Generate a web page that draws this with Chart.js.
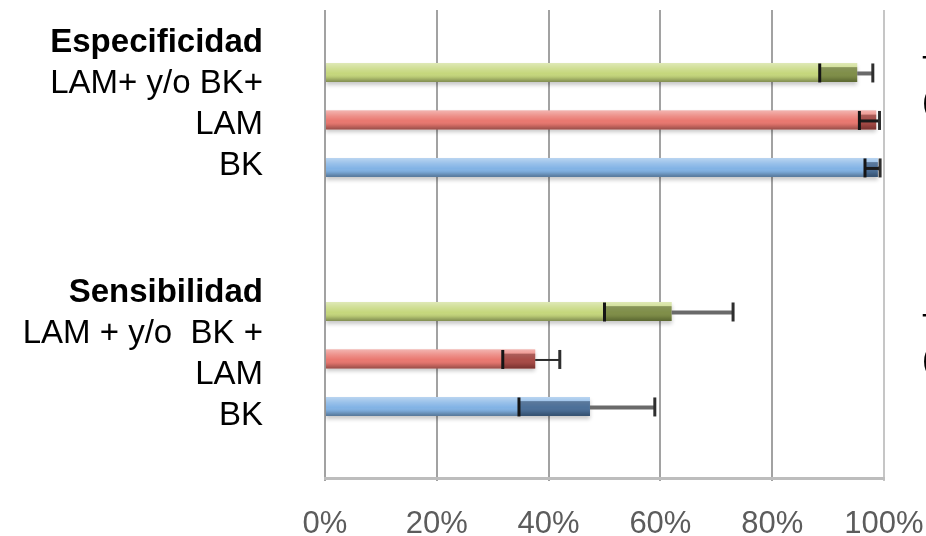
<!DOCTYPE html>
<html>
<head>
<meta charset="utf-8">
<script src="https://cdn.jsdelivr.net/npm/chart.js@4"></script>
<style>
html,body{margin:0;padding:0;background:#fff;}
#wrap{width:926px;height:536px;position:relative;}
</style>
</head>
<body>
<div id="wrap"><canvas id="c" width="926" height="536"></canvas></div>
<script>
// ---------- data ----------
const groups = ['Especificidad', 'Sensibilidad'];
const seriesNames = ['LAM+ y/o BK+', 'LAM', 'BK'];
const rowLabelsEsp = ['LAM+ y/o BK+', 'LAM', 'BK'];
const rowLabelsSens = ['LAM + y/o  BK +', 'LAM', 'BK'];
const xTicks = [0, 20, 40, 60, 80, 100];

const lamBkValues = [95.2, 62.0];
const lamValues   = [98.6, 37.6];
const bkValues    = [98.9, 47.4];

const lamBkLow  = [88.5, 50.0];
const lamBkHigh = [98.0, 73.0];
const lamLow    = [95.6, 31.8];
const lamHigh   = [99.2, 42.0];
const bkLow     = [96.6, 34.7];
const bkHigh    = [99.3, 59.0];

const rightNotes = ['T', '('];

// ---------- styles ----------
const FONT = "'Liberation Sans', Arial, sans-serif";
Chart.defaults.font.family = FONT;
const baseColors = ['#c5d77c', '#e9776f', '#82b3e5'];
const innerErr = ['rgba(45,55,10,0.45)', 'rgba(70,10,10,0.40)', 'rgba(10,30,60,0.45)'];
const outLine = [{c:'#6a6a6a', w:4}, {c:'#2a2a2a', w:2}, {c:'#6a6a6a', w:4}];
const labelX = 263;
const lineGap = 41;
const titleOffset = [-68, -57];
const notesOffset = [[-41, -8], [-22, 11]];
const yMin = -0.46, yMax = 1.498;

const seriesVals = [lamBkValues, lamValues, bkValues];
const seriesLow = [lamBkLow, lamLow, bkLow];
const seriesHigh = [lamBkHigh, lamHigh, bkHigh];
const rowLabels = [rowLabelsEsp, rowLabelsSens];

const datasets = seriesVals.map((vals, s) => ({
  label: seriesNames[s],
  data: vals.map((v, i) => ({x: v, y: i})),
  backgroundColor: baseColors[s],
  borderWidth: 0,
  categoryPercentage: 0.596,
  barPercentage: 0.4
}));

const barStyle = {
  id: 'barStyle',
  beforeDatasetDraw(chart) {
    const ctx = chart.ctx;
    ctx.save();
    ctx.shadowColor = 'rgba(0,0,0,0.22)';
    ctx.shadowBlur = 4;
    ctx.shadowOffsetY = 3;
  },
  afterDatasetDraw(chart, args) {
    const ctx = chart.ctx;
    ctx.restore();
    const meta = args.meta;
    meta.data.forEach(el => {
      const p = el.getProps(['x', 'y', 'base', 'height'], true);
      const left = Math.min(p.x, p.base), w = Math.abs(p.x - p.base);
      const top = p.y - p.height / 2;
      const g = ctx.createLinearGradient(0, top, 0, top + p.height);
      g.addColorStop(0, 'rgba(255,255,255,0.45)');
      g.addColorStop(0.3, 'rgba(255,255,255,0.18)');
      g.addColorStop(0.55, 'rgba(255,255,255,0)');
      g.addColorStop(0.75, 'rgba(0,0,0,0.08)');
      g.addColorStop(1, 'rgba(0,0,0,0.35)');
      ctx.save();
      ctx.fillStyle = g;
      ctx.fillRect(left, top, w, p.height);
      ctx.restore();
    });
  }
};

const errorBars = {
  id: 'errorBars',
  afterDatasetsDraw(chart) {
    const ctx = chart.ctx;
    const xs = chart.scales.x;
    ctx.save();
    seriesVals.forEach((vals, s) => {
      const meta = chart.getDatasetMeta(s);
      vals.forEach((v, i) => {
        const el = meta.data[i];
        const p = el.getProps(['y', 'height'], true);
        const xl = xs.getPixelForValue(seriesLow[s][i]);
        const xh = xs.getPixelForValue(seriesHigh[s][i]);
        const xv = xs.getPixelForValue(v);
        const h = p.height;
        ctx.fillStyle = innerErr[s];
        const xe = Math.min(xv, xh);
        ctx.fillRect(xl, p.y - h / 2 + h * 0.22, xe - xl, h * 0.78);
        ctx.strokeStyle = outLine[s].c;
        ctx.lineWidth = outLine[s].w;
        ctx.beginPath();
        ctx.moveTo(xe, p.y + 1);
        ctx.lineTo(xh, p.y + 1);
        ctx.stroke();
        if (xh - xl < 25) {
          ctx.strokeStyle = '#1a1a1a';
          ctx.lineWidth = 3;
          ctx.beginPath();
          ctx.moveTo(xl, p.y + 1);
          ctx.lineTo(xh, p.y + 1);
          ctx.stroke();
        }
        ctx.lineWidth = 3;
        ctx.strokeStyle = '#151515';
        ctx.beginPath();
        ctx.moveTo(xl, p.y - 9); ctx.lineTo(xl, p.y + 10);
        ctx.stroke();
        ctx.strokeStyle = '#2e2e2e';
        ctx.beginPath();
        ctx.moveTo(xh, p.y - 9); ctx.lineTo(xh, p.y + 10);
        ctx.stroke();
      });
    });
    ctx.restore();
  }
};

const sideText = {
  id: 'sideText',
  afterDraw(chart) {
    const ctx = chart.ctx;
    const ys = chart.scales.y;
    ctx.save();
    ctx.fillStyle = '#000';
    ctx.textBaseline = 'alphabetic';
    groups.forEach((g, i) => {
      const cy = ys.getPixelForValue(i);
      ctx.textAlign = 'right';
      ctx.font = 'bold 33px ' + FONT;
      ctx.fillText(g, labelX, cy + titleOffset[i]);
      ctx.font = '33px ' + FONT;
      rowLabels[i].forEach((t, k) => {
        ctx.fillText(t, labelX, cy + titleOffset[i] + lineGap * (k + 1));
      });
      ctx.textAlign = 'left';
      rightNotes.forEach((t, k) => {
        ctx.fillText(t, 922, cy + notesOffset[i][k]);
      });
    });
    ctx.restore();
  }
};

new Chart(document.getElementById('c'), {
  type: 'bar',
  data: { datasets },
  options: {
    indexAxis: 'y',
    responsive: false,
    animation: false,
    layout: { padding: { left: 325, right: 42, top: 10, bottom: 0 } },
    plugins: { legend: { display: false }, tooltip: { enabled: false } },
    scales: {
      x: {
        type: 'linear',
        position: 'bottom',
        min: 0, max: 100,
        afterBuildTicks: a => { a.ticks = xTicks.map(v => ({value: v})); },
        afterFit: a => { a.height = 58; a.paddingRight = 0; a.paddingLeft = 0; },
        ticks: {
          callback: v => v + '%',
          color: '#5c5c5c',
          font: { size: 31 },
          padding: 25,
          maxRotation: 0,
          autoSkip: false
        },
        grid: {
          color: c => (c.index === xTicks.length - 1 ? '#c6c6c6' : '#a2a2a2'),
          lineWidth: 2,
          drawTicks: true,
          tickLength: 3
        },
        border: { display: true, color: '#bdbdbd', width: 3 }
      },
      y: {
        type: 'linear',
        display: false,
        reverse: true,
        offset: false,
        min: yMin, max: yMax,
        afterBuildTicks: a => {
          a.ticks = groups.map((g, i) => ({value: i}));
          a.min = yMin; a.max = yMax;
        }
      }
    }
  },
  plugins: [barStyle, errorBars, sideText]
});
</script>
</body>
</html>
